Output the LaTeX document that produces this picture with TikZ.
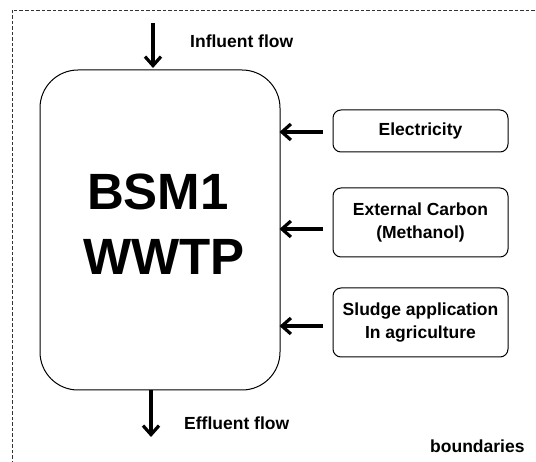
\documentclass[tikz,border=0pt]{standalone}
\usepackage{fontspec}
\setmainfont{Liberation Sans}
\usetikzlibrary{arrows.meta}
\begin{document}
\begin{tikzpicture}[x=1pt,y=-1pt,
  lbl/.style={font=\fontsize{17.5}{23}\selectfont\bfseries},
  srcbox/.style={draw=black,line width=1pt,rounded corners=8pt,fill=white,
    minimum width=175pt,align=center,lbl,inner sep=0pt},
  flowarrow/.style={draw=black,line width=3.6pt,-{Straight Barb[length=9pt,width=16pt,line width=3.2pt]}},
  big/.style={font=\fontsize{51}{63}\selectfont\bfseries,anchor=base,inner sep=0pt}]
\useasboundingbox (0,0) rectangle (536,462);
\draw[line width=0.7pt,black!80,dash pattern=on 3.5pt off 2pt] (12,470) -- (12,10) -- (545,10);
\node[draw=black,line width=1pt,rounded corners=38pt,minimum width=240pt,minimum height=320pt] (main) at (160,230) {};
\node[big] (bsm) at (158,210) {BSM1};
\node[big] (wwtp) at (164,275) {WWTP};
\node[srcbox,minimum height=42pt] (elec) at (420.5,131) {Electricity};
\node[srcbox,minimum height=69pt] (carb) at (420.5,222.5) {External Carbon\\(Methanol)};
\node[srcbox,minimum height=69pt] (sludge) at (420.5,322.5) {Sludge application\\In agriculture};
\coordinate (inA) at (153,23);
\coordinate (outB) at (151,437);
\coordinate (e1) at (323,132);
\coordinate (e2) at (323,229);
\coordinate (e3) at (323,326);
\draw[flowarrow] (inA) -- ([yshift=1.5pt]inA |- main.north);
\draw[flowarrow] (outB |- main.south) -- (outB);
\draw[flowarrow] (e1) -- ([xshift=-1pt]main.east |- e1);
\draw[flowarrow] (e2) -- ([xshift=-1pt]main.east |- e2);
\draw[flowarrow] (e3) -- ([xshift=-1pt]main.east |- e3);
\node[lbl,anchor=base west,inner sep=0pt] (infl) at (190,48) {Influent flow};
\node[lbl,anchor=base west,inner sep=0pt] (effl) at (184,430) {Effluent flow};
\node[lbl,anchor=base west,inner sep=0pt] (bound) at (430,453) {boundaries};
\end{tikzpicture}
\end{document}
